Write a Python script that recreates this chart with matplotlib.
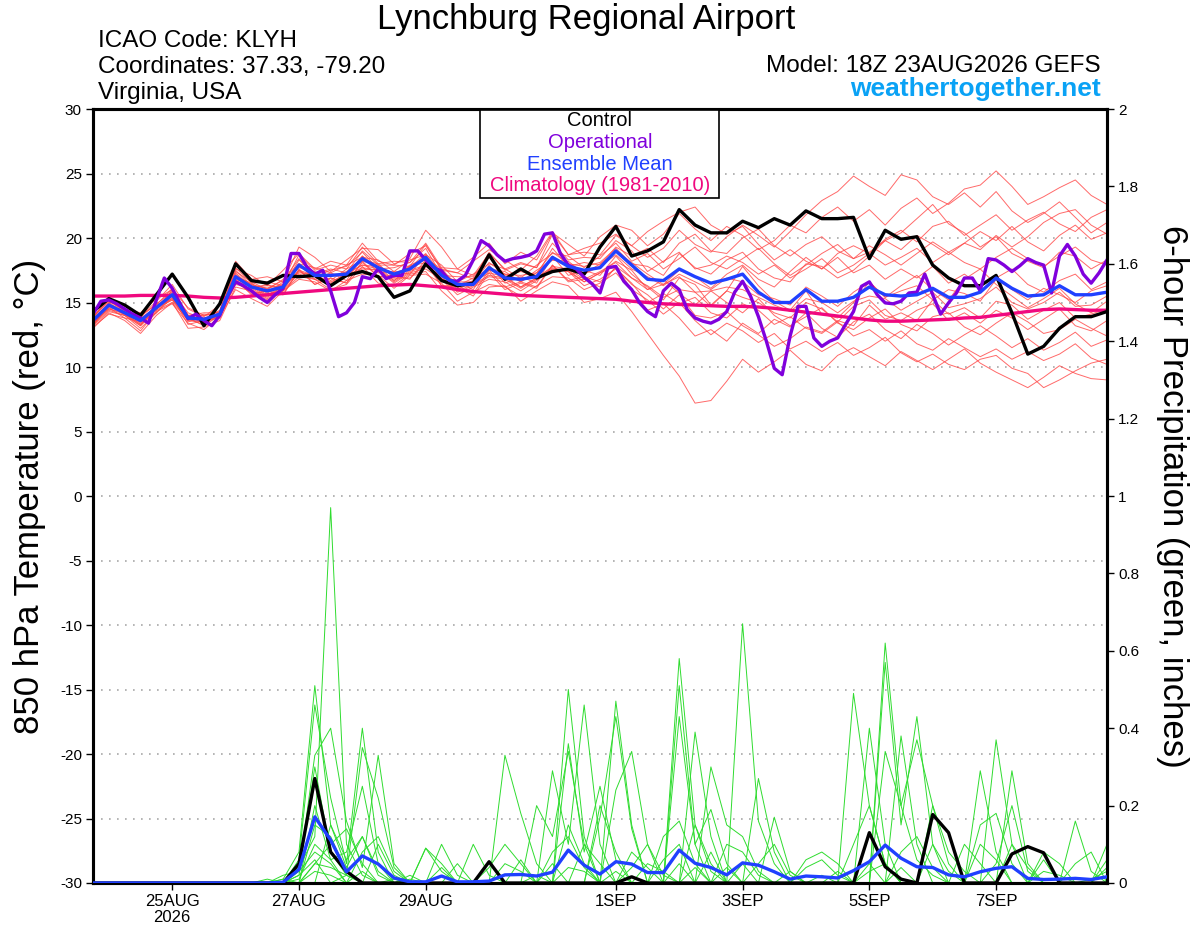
import numpy as np
import pandas as pd
import matplotlib
matplotlib.use("Agg")
import matplotlib.pyplot as plt
from matplotlib.patches import Rectangle

plt.rcParams['font.family'] = ['Liberation Sans', 'DejaVu Sans']
plt.rcParams['axes.unicode_minus'] = False

W, H = 1200, 927
START = "2026-08-23 18:00"

# ensemble every 6h (0-384h), operational run every 3h
times = pd.date_range(START, periods=65, freq="6h")
op_times = pd.date_range(START, periods=129, freq="3h")

tick_dates = ["2026-08-25", "2026-08-27", "2026-08-29", "2026-09-01",
              "2026-09-03", "2026-09-05", "2026-09-07"]
tick_labels = ["25AUG\n2026", "27AUG", "29AUG", "1SEP", "3SEP", "5SEP", "7SEP"]

# 850 hPa temperature (C)
control_t = [14.3, 15.3, 14.8, 14.0, 15.6, 17.2, 15.4, 13.2, 14.9,
             18.0, 16.7, 16.5, 17.1, 17.0, 17.1, 16.3, 17.1,
             17.4, 17.0, 15.4, 15.9, 18.0, 16.7, 16.3, 16.5,
             18.7, 16.8, 17.6, 16.9, 17.4, 17.6, 17.2, 19.3,
             20.9, 18.6, 19.0, 19.7, 22.2, 21.0, 20.4, 20.4,
             21.3, 20.8, 21.5, 21.0, 22.1, 21.5, 21.5, 21.6,
             18.4, 20.6, 19.9, 20.1, 17.9, 16.9, 16.3, 16.3,
             17.1, 14.2, 11.0, 11.6, 13.0, 13.9, 13.9, 14.3]
mean_t = [13.6, 14.8, 14.2, 13.6, 14.6, 15.6, 13.8, 13.7, 14.1,
          17.0, 16.2, 15.9, 16.2, 17.9, 17.1, 17.1, 17.2,
          18.4, 17.7, 17.2, 17.6, 18.5, 17.1, 16.4, 16.4,
          17.7, 16.9, 16.8, 17.0, 18.5, 17.8, 17.5, 17.7,
          19.0, 17.9, 16.8, 16.7, 17.6, 17.0, 16.5, 16.8,
          17.2, 15.8, 15.0, 15.0, 16.0, 15.1, 15.1, 15.4,
          16.2, 15.6, 15.5, 15.6, 16.1, 15.4, 15.4, 15.8,
          16.9, 16.1, 15.5, 15.6, 16.3, 15.6, 15.6, 15.8]
clim_t = [15.5, 15.5, 15.5, 15.55, 15.55, 15.55, 15.5, 15.4, 15.35,
          15.4, 15.5, 15.6, 15.7, 15.8, 15.9, 16.0, 16.1,
          16.2, 16.3, 16.35, 16.4, 16.3, 16.2, 16.0, 15.85,
          15.75, 15.65, 15.55, 15.5, 15.45, 15.4, 15.35, 15.3,
          15.25, 15.1, 15.0, 14.9, 14.85, 14.8, 14.75, 14.7,
          14.7, 14.65, 14.55, 14.4, 14.25, 14.1, 13.95, 13.8,
          13.65, 13.55, 13.55, 13.6, 13.65, 13.7, 13.8, 13.85,
          14.0, 14.15, 14.3, 14.45, 14.5, 14.45, 14.4, 14.4]
oper_t = [14.1, 15.1, 15.2, 14.9, 14.5, 14.1, 13.8, 13.4, 15.2, 16.9,
          16.1, 14.9, 13.75, 14.1, 13.6, 13.2, 14.0, 15.5, 16.6, 16.3,
          15.9, 15.4, 15.0, 15.6, 16.1, 18.8, 18.8, 17.75, 17.2, 17.5,
          15.9, 13.9, 14.2, 15.0, 17.0, 16.85, 17.6, 16.85, 17.1, 17.1,
          19.0, 19.0, 18.3, 17.7, 17.45, 16.7, 16.65, 17.1, 18.3, 19.8,
          19.4, 18.7, 18.2, 18.4, 18.5, 18.65, 19.0, 20.3, 20.4, 18.8,
          17.9, 17.6, 16.95, 16.45,
          15.74, 17.7, 17.8, 16.65, 16.0, 14.97, 14.3, 13.9, 15.9, 16.5,
          16.0, 14.45, 13.8, 13.55, 13.4, 13.7, 14.3, 15.8, 16.65, 15.5,
          13.9, 12.0, 9.9, 9.4, 12.4, 14.7, 14.7, 12.25, 11.6, 12.0,
          12.25, 13.3, 14.3, 16.25, 16.6, 15.6, 14.97, 14.9, 15.1, 15.74,
          15.8, 17.2, 15.6, 14.1, 14.97, 15.74, 16.9, 16.9, 15.9, 18.4,
          18.3, 17.9, 17.4, 17.85, 18.4, 18.1, 17.9, 15.74, 18.6, 19.5,
          18.6, 17.2, 16.5, 17.3, 18.3]

t_mem01 = [13.2, 15.0, 14.8, 13.9, 15.1, 16.4, 14.5, 13.9, 14.8,
           17.6, 17.1, 16.3, 17.5, 18.8, 17.6, 18.2, 17.9,
           19.6, 18.2, 17.9, 18.8, 19.4, 17.6, 17.3, 18.2,
           19.1, 18.3, 17.5, 18.6, 20.5, 18.7, 19.2, 19.6,
           20.3, 19.4, 18.5, 19.2, 20.6, 19.5, 18.9, 20.1,
           21.0, 20.2, 19.3, 20.5, 21.8, 22.9, 23.6, 24.8,
           24.0, 23.3, 24.9, 24.5, 23.2, 22.6, 23.5, 22.4,
           23.6, 22.1, 21.2, 21.9, 22.8, 21.6, 20.4, 21.2]
t_mem02 = [13.8, 15.4, 14.5, 14.2, 15.3, 16.0, 14.6, 14.0, 14.3,
           18.2, 16.8, 17.0, 16.6, 19.3, 18.5, 17.4, 18.3,
           19.2, 19.1, 18.0, 18.4, 20.6, 19.3, 17.6, 18.5,
           19.6, 18.0, 18.9, 18.3, 20.4, 19.5, 18.6, 20.1,
           21.0, 20.6, 19.4, 20.3, 21.9, 20.7, 19.8, 20.9,
           20.2, 19.1, 19.8, 21.0, 20.4, 21.6, 22.4, 21.3,
           22.2, 21.0, 22.3, 23.1, 21.9, 22.7, 23.8, 24.1,
           25.2, 24.0, 22.6, 23.2, 23.9, 24.5, 23.3, 22.6]
t_mem03 = [13.0, 14.2, 13.6, 12.6, 14.0, 15.0, 13.0, 13.1, 13.6,
           16.2, 15.9, 15.2, 15.9, 17.0, 16.8, 16.0, 16.4,
           17.8, 16.5, 16.3, 17.2, 17.4, 15.9, 14.8, 15.0,
           16.2, 16.3, 15.1, 15.9, 16.6, 16.3, 15.0, 15.3,
           15.8, 14.3, 12.6, 10.9, 9.3, 7.2, 7.4, 8.9,
           10.6, 9.6, 10.4, 11.3, 10.2, 9.7, 10.9, 11.5,
           10.8, 10.1, 11.2, 10.5, 9.8, 10.6, 11.4, 10.3,
           9.6, 9.0, 8.4, 9.2, 10.1, 9.5, 9.1, 9.0]
t_mem04 = [13.4, 14.8, 14.1, 13.3, 14.6, 15.2, 13.8, 13.2, 14.0,
           16.8, 15.6, 15.9, 15.6, 17.6, 16.4, 16.9, 16.5,
           18.2, 17.0, 17.1, 16.8, 18.3, 16.3, 16.2, 15.5,
           17.3, 16.0, 16.5, 16.1, 17.9, 16.6, 16.8, 16.2,
           17.8, 16.0, 15.2, 14.1, 15.0, 13.6, 12.5, 13.4,
           12.8, 11.9, 12.6, 11.4, 12.0, 11.2, 11.9, 10.9,
           11.5, 12.3, 11.1, 10.4, 11.0, 10.2, 9.8, 10.6,
           10.9, 9.9, 9.5, 8.4, 9.0, 9.7, 10.3, 10.6]
t_mem05 = [13.9, 15.1, 14.4, 13.9, 14.9, 15.8, 14.2, 13.7, 14.4,
           17.4, 16.6, 16.0, 16.8, 18.0, 17.7, 17.3, 17.9,
           18.5, 18.3, 17.4, 18.3, 18.7, 17.9, 16.6, 17.2,
           18.0, 17.6, 16.9, 17.9, 18.8, 18.6, 17.7, 18.6,
           19.6, 18.2, 18.8, 17.6, 18.4, 19.3, 18.1, 17.6,
           18.4, 19.2, 18.0, 17.1, 17.9, 18.8, 19.5, 18.4,
           18.9, 19.8, 19.1, 20.2, 19.5, 18.7, 19.6, 20.5,
           19.8, 20.9, 19.7, 19.0, 20.2, 21.0, 19.9, 20.4]
t_mem06 = [13.3, 14.4, 14.0, 13.0, 14.2, 15.4, 13.3, 13.6, 13.8,
           16.5, 16.0, 15.3, 16.0, 17.2, 16.8, 16.4, 17.0,
           17.6, 17.5, 16.5, 17.3, 17.6, 16.8, 15.6, 16.2,
           16.8, 16.6, 15.9, 16.7, 17.6, 17.4, 16.6, 17.3,
           17.8, 16.9, 16.0, 16.8, 15.7, 14.8, 15.9, 15.0,
           14.2, 15.3, 14.0, 13.2, 13.9, 14.6, 13.4, 12.9,
           13.8, 14.5, 13.3, 12.8, 13.9, 14.2, 13.1, 12.5,
           13.4, 14.2, 13.5, 12.6, 12.9, 13.7, 13.0, 12.4]
t_mem07 = [13.7, 15.0, 14.2, 13.8, 14.6, 15.9, 13.7, 14.0, 14.1,
           17.3, 16.2, 16.3, 16.2, 18.3, 17.2, 17.6, 17.3,
           19.0, 17.9, 17.9, 17.8, 19.5, 17.5, 17.3, 16.8,
           18.9, 17.5, 18.0, 17.7, 20.3, 18.7, 18.9, 18.7,
           20.2, 19.4, 20.5, 21.3, 22.0, 22.4, 21.0, 20.3,
           20.9, 19.5, 18.3, 19.1, 18.2, 17.6, 18.5, 17.3,
           17.9, 16.8, 17.6, 16.9, 17.8, 16.5, 17.2, 16.3,
           16.9, 17.6, 16.4, 15.8, 16.7, 17.2, 16.0, 16.6]
t_mem08 = [13.1, 14.1, 13.8, 12.8, 14.3, 14.9, 13.4, 12.9, 13.9,
           16.0, 15.3, 14.7, 15.9, 16.8, 16.6, 15.9, 16.7,
           17.2, 17.1, 16.1, 17.1, 17.2, 16.5, 15.1, 15.8,
           16.4, 16.2, 15.5, 16.3, 17.0, 16.9, 16.0, 16.5,
           17.3, 15.9, 14.4, 14.9, 13.8, 12.4, 12.9, 12.0,
           13.4, 12.6, 13.7, 13.1, 14.2, 13.0, 12.3, 13.5,
           14.1, 12.9, 12.2, 13.3, 12.6, 11.7, 12.5, 13.2,
           12.4, 11.5, 12.2, 11.3, 11.9, 12.7, 11.6, 12.1]
t_mem09 = [13.5, 14.6, 14.3, 13.4, 14.7, 15.3, 14.0, 13.4, 14.2,
           17.0, 16.5, 15.7, 16.6, 17.7, 17.4, 16.7, 17.6,
           18.3, 18.0, 16.9, 17.9, 18.4, 17.6, 16.3, 16.9,
           17.6, 17.4, 16.6, 17.5, 18.3, 18.2, 17.2, 18.0,
           18.9, 18.1, 17.2, 16.4, 17.5, 17.0, 16.1, 17.2,
           17.9, 16.8, 16.2, 17.4, 18.5, 17.6, 18.8, 19.4,
           18.8, 19.9, 20.6, 19.7, 20.9, 21.3, 20.2, 21.0,
           21.8, 20.6, 21.4, 22.0, 21.1, 20.5, 21.6, 22.2]
t_mem10 = [13.8, 15.2, 14.2, 13.5, 14.4, 16.0, 13.6, 14.1, 14.0,
           17.2, 16.1, 16.4, 15.9, 18.0, 16.8, 17.3, 16.7,
           18.6, 17.3, 17.4, 17.2, 18.7, 16.7, 16.6, 16.0,
           17.9, 16.5, 17.0, 16.5, 18.6, 17.1, 17.5, 17.1,
           18.6, 17.2, 16.2, 15.2, 16.9, 16.4, 14.8, 15.9,
           17.8, 16.3, 15.1, 14.4, 15.9, 14.1, 13.8, 15.0,
           16.6, 15.4, 16.3, 17.1, 16.0, 15.2, 16.8, 17.6,
           16.4, 15.5, 14.6, 15.3, 16.1, 14.9, 14.2, 15.1]
t_mem11 = [13.2, 14.3, 14.0, 13.2, 14.4, 15.0, 13.7, 13.3, 14.0,
           16.4, 16.1, 15.4, 16.3, 17.3, 17.2, 16.5, 17.3,
           17.9, 17.8, 16.7, 17.8, 18.1, 17.3, 16.0, 16.6,
           17.3, 17.0, 16.2, 16.9, 17.7, 17.4, 16.3, 16.8,
           17.6, 16.5, 15.0, 15.7, 14.9, 15.4, 14.2, 13.8,
           14.9, 14.4, 13.3, 13.9, 13.0, 12.6, 13.5, 12.4,
           12.9, 12.0, 12.8, 11.8, 11.3, 12.2, 11.5, 10.8,
           11.4, 10.6, 11.2, 10.5, 11.0, 11.8, 10.7, 10.2]
t_mem12 = [13.6, 14.9, 14.0, 13.7, 14.5, 15.7, 14.0, 13.5, 14.3,
           17.5, 16.3, 16.1, 16.7, 18.4, 17.0, 17.5, 17.8,
           18.9, 17.6, 17.7, 18.1, 19.2, 17.1, 17.0, 17.0,
           18.5, 17.1, 17.4, 17.1, 19.2, 17.8, 18.1, 17.9,
           19.3, 18.6, 19.2, 18.1, 19.6, 20.3, 19.0, 18.8,
           20.0, 20.7, 19.4, 18.6, 19.5, 20.1, 19.0, 18.4,
           19.4, 18.7, 17.9, 18.8, 19.7, 18.9, 18.1, 17.6,
           18.5, 19.2, 18.4, 17.8, 18.6, 19.3, 18.3, 17.9]
t_mem13 = [13.7, 14.7, 14.4, 13.6, 14.8, 15.5, 14.0, 13.7, 14.1,
           16.9, 16.4, 15.8, 16.4, 17.8, 17.3, 17.0, 17.4,
           18.2, 17.9, 17.0, 17.8, 18.3, 17.4, 16.2, 16.7,
           17.5, 17.2, 16.6, 17.3, 18.3, 18.0, 17.2, 17.8,
           18.7, 17.6, 17.0, 16.3, 17.2, 16.6, 16.0, 16.9,
           16.6, 15.6, 15.3, 14.8, 16.2, 15.5, 14.7, 15.8,
           16.6, 15.4, 15.9, 16.3, 15.2, 16.0, 15.7, 15.1,
           16.8, 16.0, 15.2, 16.1, 15.6, 15.0, 15.9, 16.3]
t_mem14 = [13.5, 14.5, 14.2, 13.3, 14.6, 15.3, 13.9, 13.4, 14.1,
           16.8, 16.3, 15.6, 16.2, 17.5, 17.1, 16.6, 17.2,
           17.9, 17.6, 16.7, 17.5, 17.9, 17.0, 15.9, 16.4,
           17.1, 16.9, 16.2, 16.9, 17.8, 17.6, 16.8, 17.4,
           18.1, 16.9, 16.3, 15.4, 16.0, 15.8, 14.7, 15.9,
           15.4, 15.0, 14.2, 13.8, 15.0, 14.5, 13.5, 14.7,
           15.2, 14.0, 13.6, 14.4, 14.9, 13.6, 14.2, 13.4,
           14.4, 13.8, 12.9, 13.7, 14.5, 13.2, 12.8, 13.6]
t_mem15 = [13.9, 15.3, 14.3, 14.0, 14.8, 16.1, 14.0, 14.2, 14.2,
           17.7, 16.5, 16.6, 16.3, 18.7, 17.5, 17.9, 17.6,
           19.3, 18.0, 18.2, 18.1, 19.6, 17.7, 17.6, 17.1,
           18.8, 17.6, 18.1, 17.7, 19.6, 18.3, 18.5, 18.4,
           19.8, 19.0, 17.4, 18.2, 18.9, 17.6, 17.9, 18.6,
           18.1, 17.2, 17.9, 16.9, 17.6, 18.4, 17.3, 17.9,
           18.8, 17.9, 18.5, 19.2, 18.1, 18.9, 19.6, 19.1,
           20.2, 19.3, 20.1, 21.2, 21.9, 22.2, 21.0, 20.3]
t_mem16 = [13.3, 14.6, 13.8, 13.5, 14.2, 15.6, 13.5, 13.8, 13.8,
           16.6, 15.7, 15.9, 15.6, 17.5, 16.4, 16.9, 16.5,
           18.1, 17.0, 16.9, 16.9, 18.0, 16.3, 16.3, 15.7,
           17.5, 16.2, 16.6, 16.2, 17.9, 16.7, 17.0, 16.6,
           17.7, 16.4, 15.6, 14.5, 15.6, 14.0, 13.8, 14.3,
           13.2, 12.5, 11.6, 12.2, 13.1, 12.7, 13.6, 13.2,
           14.8, 13.7, 14.2, 13.6, 15.2, 14.1, 14.6, 13.8,
           15.1, 14.8, 13.7, 14.4, 15.0, 13.8, 14.1, 14.5]
t_mem17 = [13.6, 14.9, 14.2, 13.6, 14.7, 15.6, 13.8, 13.8, 14.1,
           17.1, 16.4, 16.1, 16.4, 18.0, 17.1, 17.2, 17.2,
           18.6, 17.7, 17.3, 17.7, 18.8, 17.2, 16.6, 16.6,
           18.1, 17.2, 17.1, 17.3, 18.9, 18.0, 17.8, 18.1,
           19.2, 18.0, 17.8, 17.1, 18.8, 17.7, 17.2, 18.3,
           18.9, 17.6, 16.9, 16.6, 18.0, 17.8, 16.9, 17.5,
           18.6, 19.8, 20.4, 21.5, 22.6, 21.1, 20.4, 19.3,
           20.1, 18.8, 18.2, 17.7, 18.9, 18.6, 17.6, 18.3]
t_mem18 = [13.4, 14.5, 14.1, 13.2, 14.5, 15.2, 13.6, 13.5, 14.0,
           16.7, 16.2, 15.5, 16.1, 17.4, 17.0, 16.4, 17.1,
           17.7, 17.5, 16.6, 17.4, 17.8, 16.9, 15.8, 16.3,
           17.0, 16.8, 16.1, 16.8, 17.6, 17.5, 16.6, 17.3,
           18.2, 17.5, 16.0, 16.4, 17.0, 15.8, 15.9, 16.2,
           16.0, 15.4, 14.8, 14.3, 15.3, 15.0, 14.2, 15.1,
           15.5, 15.3, 14.4, 15.1, 15.8, 14.6, 14.9, 15.3,
           16.2, 15.0, 14.5, 15.0, 15.8, 14.7, 14.8, 15.5]

# 6-hour precipitation (inches)
control_p = [0, 0, 0, 0, 0, 0, 0, 0, 0, 0, 0, 0,
             0, .05, .27, .08, .03, 0, 0, 0, 0, 0, 0, 0,
             0, .055, 0, 0, 0, 0, 0, 0, 0, 0, .016, 0,
             0, 0, 0, 0, 0, 0, 0, 0, 0, 0, 0, 0,
             0, .13, .042, .01, 0, .177, .13, 0, 0, 0, .075, .094,
             .078, 0, 0, 0, 0]
mean_p = [0, 0, 0, 0, 0, 0, 0, 0, 0, 0, 0, 0,
          .002, .035, .171, .111, .029, .07, .049, .013, .003, .003, .018, .003,
          .003, .005, .021, .022, .018, .028, .085, .046, .023, .055, .049, .027,
          .027, .085, .051, .04, .021, .052, .046, .029, .01, .018, .016, .013,
          .032, .055, .098, .064, .042, .04, .021, .016, .029, .038, .042, .012,
          .009, .01, .012, .009, .016]

p_mem01 = [0, 0, 0, 0, 0, 0, 0, 0, 0, 0, 0, 0,
           .01, .08, .51, .15, .04, .12, .02, 0, 0, 0, 0, 0,
           0, 0, .33, .18, .05, 0, 0, 0, 0, 0, 0, 0,
           0, .58, .15, .05, 0, 0, 0, 0, 0, 0, 0, 0,
           0, 0, .62, .2, .06, .02, 0, 0, 0, 0, 0, 0,
           0, 0, 0, 0, 0]
p_mem02 = [0, 0, 0, 0, 0, 0, 0, 0, 0, 0, 0, 0,
           0, .04, .12, .97, .10, .02, 0, 0, 0, 0, 0, 0,
           0, 0, 0, 0, 0, 0, .5, .12, 0, .47, .15, 0,
           0, 0, 0, 0, 0, .67, .16, .05, 0, 0, 0, 0,
           0, 0, 0, 0, 0, 0, 0, 0, .29, .08, 0, 0,
           0, 0, 0, 0, 0]
p_mem03 = [0, 0, 0, 0, 0, 0, 0, 0, 0, 0, 0, 0,
           0, .06, .46, .22, .05, .4, .08, 0, 0, 0, 0, 0,
           0, 0, 0, 0, 0, .29, .1, .46, .1, 0, 0, 0,
           0, .51, .1, 0, 0, 0, 0, 0, 0, 0, 0, 0,
           0, .4, .1, 0, 0, 0, 0, 0, 0, .37, .1, 0,
           0, 0, 0, 0, 0]
p_mem04 = [0, 0, 0, 0, 0, 0, 0, 0, 0, 0, 0, 0,
           .02, .03, .33, .4, .16, .04, .33, .05, 0, 0, 0, 0,
           0, 0, 0, 0, 0, 0, .36, .08, .25, .06, 0, 0,
           0, 0, .39, .12, 0, 0, 0, 0, 0, 0, 0, 0,
           0, 0, .57, .15, .43, .1, 0, 0, 0, 0, 0, 0,
           0, 0, .16, .03, 0]
p_mem05 = [0, 0, 0, 0, 0, 0, 0, 0, 0, 0, 0, 0,
           0, .02, .3, .08, .02, .35, .22, .04, 0, .09, .03, 0,
           0, 0, 0, 0, 0, 0, 0, 0, 0, .24, .34, .1,
           0, 0, 0, 0, 0, 0, .27, .08, 0, 0, 0, 0,
           .49, .2, .05, 0, 0, 0, 0, 0, 0, 0, .29, .05,
           0, 0, 0, 0, 0]
p_mem06 = [0, 0, 0, 0, 0, 0, 0, 0, 0, 0, 0, 0,
           0, 0, .2, .06, .08, .25, .05, 0, 0, 0, .1, .02,
           0, 0, 0, 0, .2, .12, .34, .1, 0, 0, 0, 0,
           0, .43, .1, .19, .05, 0, 0, 0, 0, 0, 0, 0,
           0, 0, 0, .38, .1, 0, 0, 0, .15, .18, .05, 0,
           0, 0, 0, 0, .1]
p_mem07 = [0, 0, 0, 0, 0, 0, 0, 0, 0, 0, 0, 0,
           0, 0, .15, .12, .03, 0, .1, .02, 0, 0, 0, 0,
           .1, .02, 0, 0, 0, 0, 0, 0, .17, .43, .14, 0,
           0, 0, 0, .3, .15, .12, .03, 0, 0, 0, 0, 0,
           0, 0, .34, .2, .37, .2, .05, 0, 0, 0, 0, 0,
           .06, 0, 0, 0, 0]
p_mem08 = [0, 0, 0, 0, 0, 0, 0, 0, 0, 0, 0, 0,
           0, 0, 0, .15, .06, .12, .03, 0, 0, .09, .05, 0,
           0, 0, 0, .06, 0, 0, .15, .05, 0, 0, 0, 0,
           .12, .16, .05, 0, 0, 0, 0, 0, 0, .06, .08, .05,
           0, 0, 0, 0, 0, 0, 0, .1, .05, 0, 0, 0,
           .08, .05, 0, 0, .06]
p_mem09 = [0, 0, 0, 0, 0, 0, 0, 0, 0, 0, 0, 0,
           .01, 0, .05, .04, .02, 0, 0, 0, .01, 0, 0, 0,
           0, 0, .05, .03, 0, 0, 0, 0, .2, .08, 0, .05,
           .03, 0, .15, .03, 0, 0, 0, .17, .03, 0, 0, 0,
           0, .05, 0, 0, 0, .1, .03, 0, 0, 0, 0, 0,
           0, 0, 0, 0, 0]
p_mem10 = [0, 0, 0, 0, 0, 0, 0, 0, 0, 0, 0, 0,
           0, .03, .08, .05, 0, .03, 0, 0, 0, 0, .04, 0,
           0, 0, 0, 0, 0, .05, 0, 0, 0, 0, .04, .1,
           .02, 0, 0, 0, .1, .08, .02, 0, 0, .04, .06, .02,
           0, 0, 0, 0, 0, .2, .08, .03, 0, 0, 0, 0,
           0, 0, 0, 0, 0]
p_mem11 = [0, 0, 0, 0, 0, 0, 0, 0, 0, 0, 0, 0,
           0, 0, .03, .02, 0, 0, 0, 0, 0, 0, 0, 0,
           0, 0, 0, 0, .02, 0, 0, 0, 0, .03, 0, 0,
           0, .05, 0, 0, 0, 0, .05, .1, .02, 0, 0, 0,
           0, .03, .05, 0, 0, 0, 0, 0, 0, .05, .2, .03,
           0, 0, 0, .01, .03]
p_mem12 = [0, 0, 0, 0, 0, 0, 0, 0, 0, 0, 0, .01,
           0, .02, .06, 0, .02, 0, 0, .01, 0, 0, 0, 0,
           0, 0, 0, 0, 0, 0, .04, .03, 0, 0, 0, 0,
           0, 0, .04, 0, 0, 0, 0, 0, 0, 0, .02, 0,
           0, 0, 0, .04, 0, 0, 0, 0, 0, 0, 0, 0,
           .03, .02, 0, 0, 0]
p_mem13 = [0, 0, 0, 0, 0, 0, 0, 0, 0, 0, 0, 0,
           0, 0, .05, .1, .14, .05, 0, 0, .02, 0, 0, 0,
           0, .04, .1, .05, 0, 0, 0, .1, .05, 0, 0, 0,
           .06, .1, 0, 0, .04, 0, 0, 0, .03, 0, 0, 0,
           .1, .2, .05, 0, 0, 0, 0, 0, .1, .06, 0, 0,
           0, 0, .05, .08, 0]
p_mem14 = [0, 0, 0, 0, 0, 0, 0, 0, 0, 0, 0, 0,
           0, .01, .1, .06, 0, .08, .12, .03, 0, 0, 0, .05,
           0, 0, 0, 0, 0, .08, .12, .04, 0, 0, .08, .04,
           0, 0, 0, .08, 0, .05, 0, 0, 0, 0, 0, .03,
           0, 0, 0, .08, .12, .04, 0, 0, 0, 0, .1, .04,
           0, 0, 0, 0, .04]

temp_members = [t_mem01, t_mem02, t_mem03, t_mem04, t_mem05, t_mem06,
                t_mem07, t_mem08, t_mem09, t_mem10, t_mem11, t_mem12,
                t_mem13, t_mem14, t_mem15, t_mem16, t_mem17, t_mem18]
precip_members = [p_mem01, p_mem02, p_mem03, p_mem04, p_mem05, p_mem06,
                  p_mem07, p_mem08, p_mem09, p_mem10, p_mem11, p_mem12,
                  p_mem13, p_mem14]

RED = '#ff4444'
GREEN = '#2fdc2f'
PURPLE = '#8000dc'
BLUE = '#2040ff'
PINK = '#f0087f'

fig = plt.figure(figsize=(W / 100, H / 100), dpi=100)
ax = fig.add_axes([93 / W, 1 - 883 / H, (1107 - 93) / W, (883 - 109) / H])
ax2 = ax.twinx()

# temperature, left axis
for y in range(-25, 30, 5):
    ax.axhline(y, color='#a8a8a8', lw=1.2, ls=(0, (1, 3.8)), zorder=0.5)
for m in temp_members:
    ax.plot(times, m, color=RED, lw=0.7, alpha=0.8, zorder=1)
ax.plot(times, clim_t, color=PINK, lw=2.4, zorder=2)
ax.plot(times, control_t, color='black', lw=2.4, zorder=3)
ax.plot(op_times, oper_t, color=PURPLE, lw=2.4, zorder=4)
ax.plot(times, mean_t, color=BLUE, lw=2.4, zorder=5)

# precipitation, right axis
for m in precip_members:
    ax2.plot(times, m, color=GREEN, lw=0.7, zorder=1)
ax2.plot(times, control_p, color='black', lw=2.4, zorder=3)
ax2.plot(times, mean_p, color=BLUE, lw=2.4, zorder=4)

ax.set_xlim(times[0], times[-1])
ax.set_ylim(-30, 30)
ax2.set_ylim(0, 2)
ax.set_yticks(range(-30, 31, 5))
ax.set_yticklabels([str(v) for v in range(-30, 31, 5)])
pticks = np.round(np.arange(0, 2.01, 0.2), 1)
ax2.set_yticks(pticks)
ax2.set_yticklabels([f'{v:g}' for v in pticks])
ax.set_xticks(pd.to_datetime(tick_dates))
ax.set_xticklabels(tick_labels, linespacing=1.05)

ax.tick_params(axis='y', direction='out', length=5, width=1, labelsize=11, pad=3)
ax.tick_params(axis='x', direction='out', length=5, width=1, labelsize=12, pad=3)
ax2.tick_params(axis='y', direction='out', length=5, width=1, labelsize=11, pad=3)
for a in (ax, ax2):
    for s in a.spines.values():
        s.set_linewidth(2.2)

# header texts
fig.text(586 / W, 1 - 29 / H, 'Lynchburg Regional Airport', ha='center',
         va='baseline', fontsize=25)
fig.text(98 / W, 1 - 47 / H, 'ICAO Code: KLYH', ha='left', va='baseline', fontsize=17.5)
fig.text(98 / W, 1 - 73 / H, 'Coordinates: 37.33, -79.20', ha='left', va='baseline',
         fontsize=17.5)
fig.text(98 / W, 1 - 99 / H, 'Virginia, USA', ha='left', va='baseline', fontsize=17.5)
fig.text(1101 / W, 1 - 72 / H, 'Model: 18Z 23AUG2026 GEFS', ha='right', va='baseline',
         fontsize=17.5)
fig.text(1101 / W, 1 - 96 / H, 'weathertogether.net', ha='right', va='baseline',
         fontsize=19, fontweight='bold', color='#0aa2f5')

# axis titles
fig.text(30 / W, 1 - 496 / H, '850 hPa Temperature (red, °C)', rotation=90,
         ha='center', va='center', fontsize=25)
fig.text(1172 / W, 1 - 496 / H, '6-hour Precipitation (green, inches)', rotation=270,
         ha='center', va='center', fontsize=25)

# legend box
fig.patches.append(Rectangle((480 / W, 1 - 198 / H), (719 - 480) / W, (198 - 110) / H,
                             transform=fig.transFigure, facecolor='white',
                             edgecolor='black', lw=1.2, zorder=5))
legend_items = [('Control', 'black'), ('Operational', PURPLE),
                ('Ensemble Mean', BLUE), ('Climatology (1981-2010)', PINK)]
for k, (lab, col) in enumerate(legend_items):
    fig.text(600 / W, 1 - (121 + 21.5 * k) / H, lab, ha='center', va='center',
             fontsize=14.5, color=col, zorder=6)

fig.savefig('out.png', dpi=100)
